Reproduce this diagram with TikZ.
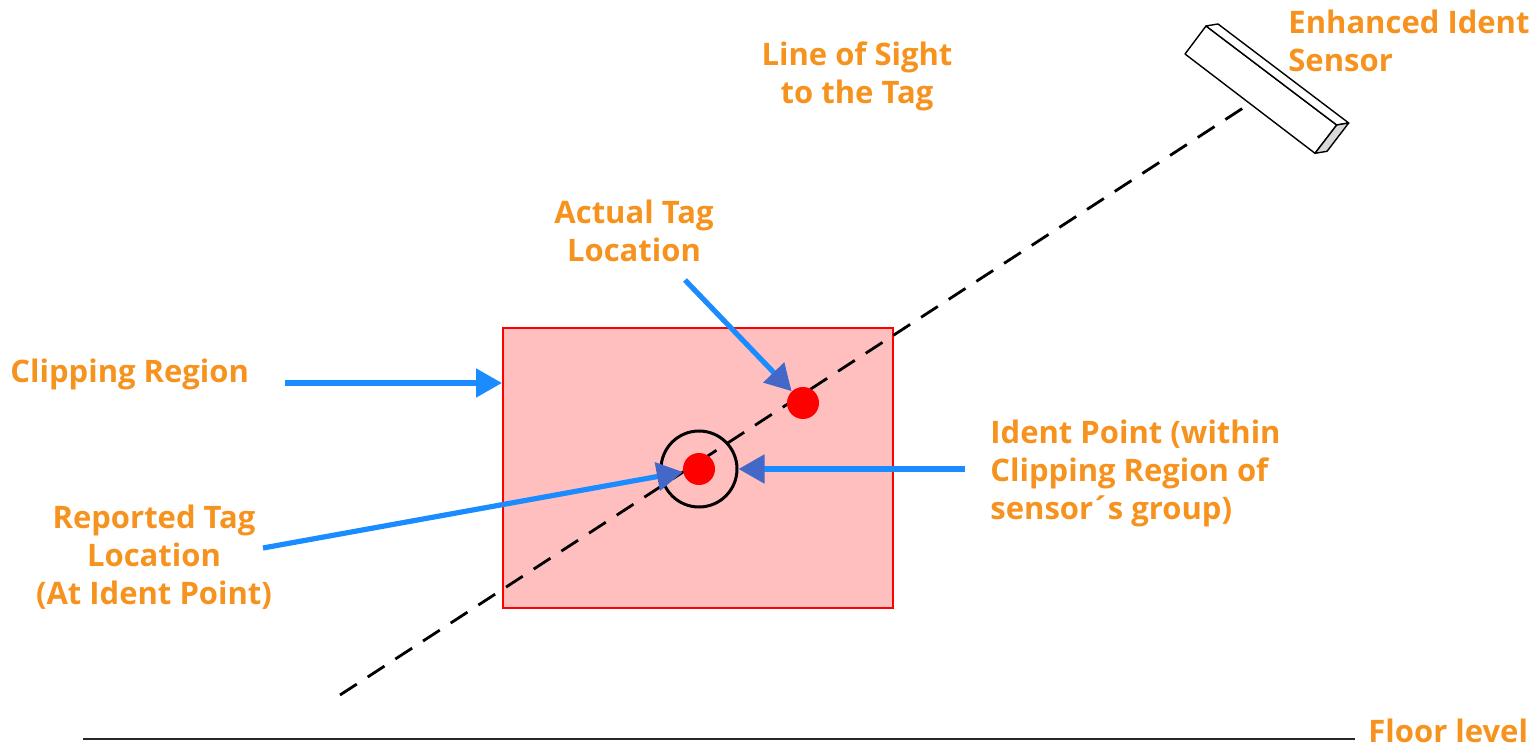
\documentclass[tikz,border=0pt]{standalone}
\usepackage{fontspec}
\setmainfont{Open Sans}
\usetikzlibrary{arrows.meta,calc}
\definecolor{lbl}{HTML}{F6921E}
\definecolor{pinkfill}{HTML}{FFBFBF}
\definecolor{arrowlight}{HTML}{1A8CFF}
\definecolor{arrowdark}{HTML}{4468C8}
\definecolor{endgray}{HTML}{D9D9D9}
\tikzset{
  lbltext/.style={inner sep=0pt, text=lbl, font=\fontsize{15.5pt}{19pt}\selectfont\bfseries},
  cliprect/.style={draw=red, line width=1pt, fill=pinkfill, minimum width=195pt, minimum height=140pt, inner sep=0pt},
  tagdot/.style={circle, fill=red, minimum size=16pt, inner sep=0pt},
  identring/.style={circle, draw=black, line width=1.5pt, minimum size=38pt, inner sep=0pt},
  sight/.style={black, line width=1.4pt, dash pattern=on 10pt off 6.5pt},
  callout/.style={arrowlight, line width=2.6pt, -{Triangle[length=13pt,width=14pt,color=arrowdark]}},
  callbright/.style={arrowlight, line width=2.6pt, -{Triangle[length=13pt,width=14pt]}},
  sensorface/.style={draw=black, line width=0.7pt, line join=round, fill=white},
}
\begin{document}
\begin{tikzpicture}[x=0.5pt,y=-0.5pt]
\useasboundingbox (0,0) rectangle (1536,748);

% clipping region
\node[cliprect] (clip) at (698,468) {};

% line of sight
\coordinate (losA) at (340,695);
\coordinate (losB) at (1250,103.5);
\draw[sight] (losA) -- (losB);

% floor
\coordinate (floorA) at (83,739);
\coordinate (floorB) at (1355,739);
\draw[line width=1pt, black!85] (floorA) -- (floorB);

% sensor
\coordinate (s1) at (1185,54);
\coordinate (s2) at (1206,26);
\coordinate (s3) at (1218,24);
\coordinate (s4) at (1348.7,123);
\coordinate (s5) at (1336.7,125);
\coordinate (s6) at (1315,153.3);
\coordinate (s7) at (1327,151.3);
\draw[sensorface] (s1) -- (s2) -- (s5) -- (s6) -- cycle;
\draw[sensorface] (s2) -- (s3) -- (s4) -- (s5) -- cycle;
\draw[sensorface, fill=endgray] (s5) -- (s4) -- (s7) -- (s6) -- cycle;

% tag markers
\node[tagdot] (actual) at (803,403) {};
\node[tagdot] (reported) at (699,469) {};
\node[identring] (ident) at (699,469) {};

% labels
\node[lbltext, anchor=north west, align=left] (sensorlbl) at (1288,9.5) {Enhanced Ident\\Sensor};
\node[lbltext, anchor=north, align=center] (loslbl) at (857,41.5) {Line of Sight\\to the Tag};
\node[lbltext, anchor=north, align=center] (actuallbl) at (634,199.5) {Actual Tag\\Location};
\node[lbltext, anchor=base west] (cliplbl) at (10,383) {Clipping Region};
\node[lbltext, anchor=north, align=center] (reportedlbl) at (154,504.5) {Reported Tag\\Location\\(At Ident Point)};
\node[lbltext, anchor=north west, align=left] (identlbl) at (990,419.5) {Ident Point (within\\Clipping Region of\\sensor\kern-1pt´\kern-1pt s group)};
\node[lbltext, anchor=base west] (floorlbl) at (1368,742) {Floor level};

% callout arrows
\coordinate (clipTail) at (285,383);
\coordinate (actualTail) at (685,280);
\coordinate (identTail) at (965,469);
\coordinate (reportedTail) at (263,548);
\draw[callbright] (clipTail) -- (clip.west |- clipTail);
\draw[callout] (actualTail) -- (actual);
\draw[callout] (identTail) -- (ident);
\draw[callout] (reportedTail) -- (reported);
\end{tikzpicture}
\end{document}
